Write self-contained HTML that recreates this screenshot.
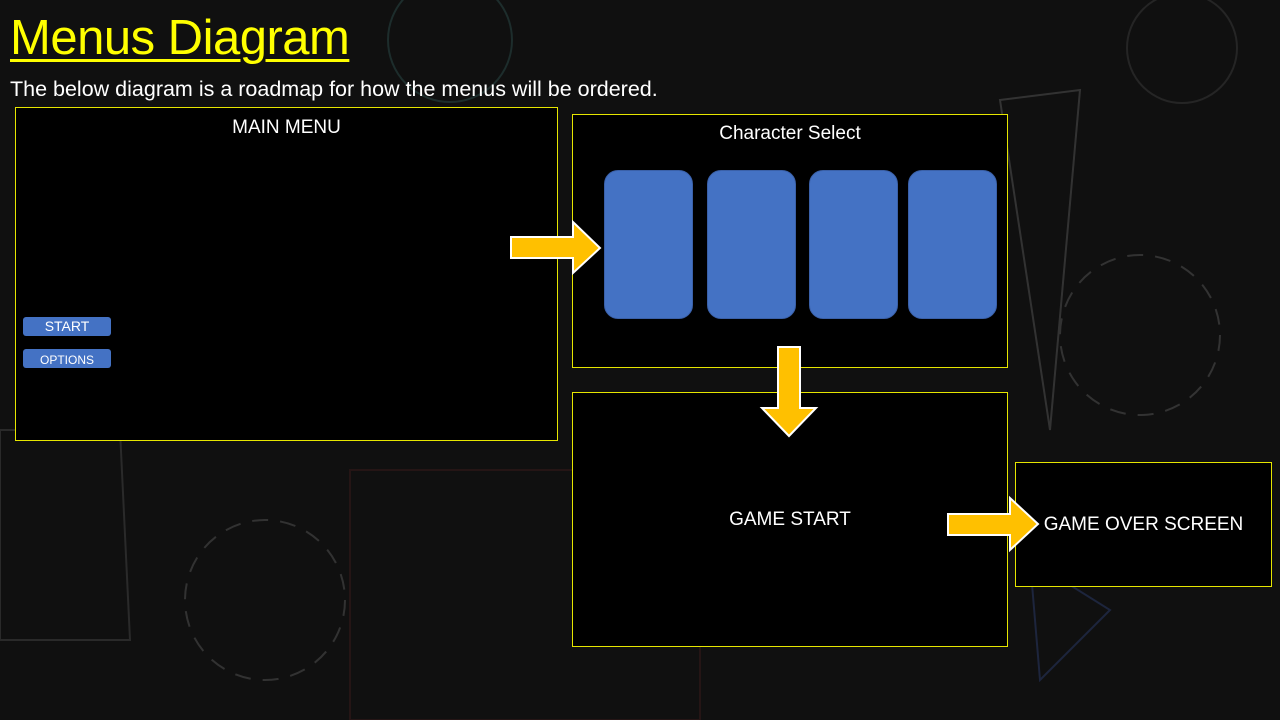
<!DOCTYPE html>
<html><head><style>
body{margin:0;width:1280px;height:720px;overflow:hidden;background:#101010;font-family:"Liberation Sans",sans-serif;position:relative}
.a{position:absolute}
.box{position:absolute;background:#000;border:1px solid #e6e600;box-sizing:border-box}
.card{position:absolute;background:#4472c4;border-radius:14px;border:1px solid #3a60a8;box-sizing:border-box;top:170px;width:89px;height:149px}
.btn{position:absolute;background:#4472c4;border-radius:3px;color:#fff;text-align:center;left:23px;width:88px;height:19px}
</style></head><body>
<svg class="a" style="left:0;top:0" width="1280" height="720">
<g fill="none" stroke-width="2" opacity="0.5">
<circle cx="450" cy="40" r="62" stroke="#2a4a48"/>
<circle cx="1182" cy="48" r="55" stroke="#3a3a3a"/>
<circle cx="1140" cy="335" r="80" stroke="#555" stroke-dasharray="16 12"/>
<circle cx="265" cy="600" r="80" stroke="#555" stroke-dasharray="16 12"/>
<path d="M1000 100 L1080 90 L1050 430 Z" stroke="#555"/>
<path d="M1030 560 L1110 610 L1040 680 Z" stroke="#2a3a6a"/>
<path d="M350 470 L700 470 L700 720 L350 720 Z" stroke="#3a1a1a"/>
<path d="M0 430 L120 430 L130 640 L0 640 Z" stroke="#444"/>
</g>
</svg>
<div class="a" style="left:10px;top:8px;font-size:49px;color:#ffff00;text-decoration:underline;text-decoration-thickness:3px;text-underline-offset:5px;line-height:60px;letter-spacing:-0.5px">Menus Diagram</div>
<div class="a" style="left:10px;top:77px;font-size:21.5px;color:#fff">The below diagram is a roadmap for how the menus will be ordered.</div>
<div class="box" style="left:15px;top:107px;width:543px;height:334px"></div>
<div class="a" style="left:15px;top:117px;width:543px;text-align:center;color:#fff;font-size:19px">MAIN MENU</div>
<div class="btn" style="top:317px;font-size:14px;line-height:19px">START</div>
<div class="btn" style="top:349px;font-size:12px;line-height:23px">OPTIONS</div>
<div class="box" style="left:572px;top:114px;width:436px;height:254px"></div>
<div class="a" style="left:572px;top:123px;width:436px;text-align:center;color:#fff;font-size:19px">Character Select</div>
<div class="card" style="left:604px"></div>
<div class="card" style="left:707px"></div>
<div class="card" style="left:809px"></div>
<div class="card" style="left:908px"></div>
<div class="box" style="left:572px;top:392px;width:436px;height:255px"></div>
<div class="a" style="left:572px;top:509px;width:436px;text-align:center;color:#fff;font-size:19px">GAME START</div>
<div class="box" style="left:1015px;top:462px;width:257px;height:125px"></div>
<div class="a" style="left:1015px;top:514px;width:257px;text-align:center;color:#fff;font-size:19px">GAME OVER SCREEN</div>
<svg class="a" style="left:0;top:0" width="1280" height="720">
<g fill="#ffc000" stroke="#fff" stroke-width="2">
<path d="M511 237 L573 237 L573 222 L600 248 L573 273 L573 258 L511 258 Z"/>
<path d="M778 347 L800 347 L800 408 L816 408 L789 436 L762 408 L778 408 Z"/>
<path d="M948 514 L1010 514 L1010 498 L1038 524 L1010 550 L1010 535 L948 535 Z"/>
</g>
</svg>
</body></html>
